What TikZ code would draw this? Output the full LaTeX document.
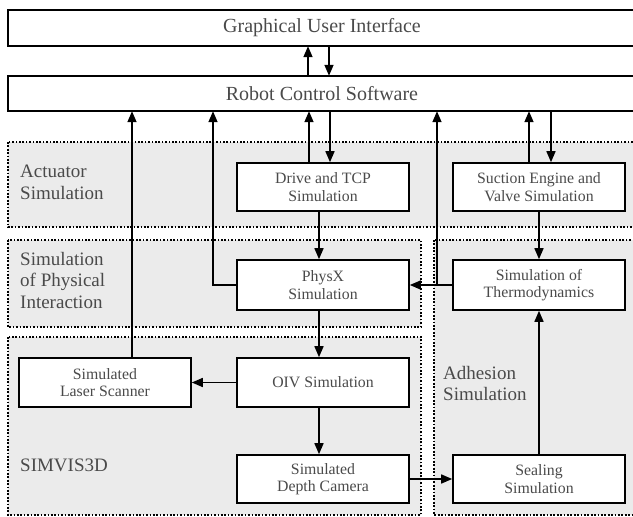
\documentclass[tikz,border=0pt]{standalone}
\usepackage{fontspec}
\setmainfont{Liberation Serif}
\usetikzlibrary{arrows.meta}
\definecolor{regionfill}{HTML}{EBEBEB}
\definecolor{txt}{HTML}{4A4A4A}
\begin{document}
\begin{tikzpicture}[x=1pt,y=-1pt,
  simbox/.style={draw=black,line width=1.6pt,fill=white,minimum width=172pt,minimum height=49pt,
    inner sep=0pt,align=center,text=txt,font=\fontsize{15.8}{17.5}\selectfont},
  widebox/.style={inner sep=0pt,text=txt,font=\fontsize{20}{22}\selectfont},
  region/.style={fill=regionfill,draw=black,line width=1.4pt,dash pattern=on 1.7pt off 1.7pt},
  regionlabel/.style={anchor=north west,inner sep=0pt,align=left,text=txt,
    font=\fontsize{19}{21.5}\selectfont},
  link/.style={line width=1.5pt,-{Triangle[length=11pt,width=9pt]}}]
\useasboundingbox (0,0) rectangle (633,517);
\clip (0,0) rectangle (633,517);

% grey groups with dotted frames
\draw[region] (8,142) rectangle (645,227);
\draw[region] (8,240) rectangle (421,327);
\draw[region] (434,240) rectangle (645,515);
\draw[region] (8,337) rectangle (421,515);

\node[regionlabel] (lact) at (20,165) {Actuator\\Simulation};
\node[regionlabel] (lphys) at (20,252) {Simulation\\of Physical\\Interaction};
\node[regionlabel] (lsim) at (20,459) {SIMVIS3D};
\node[regionlabel] (ladh) at (443,366) {Adhesion\\Simulation};

% top level software boxes
\node[widebox,minimum width=628pt,minimum height=36pt] (gui) at (322,28) {Graphical User Interface};
\draw[line width=1.6pt] (gui.north west) rectangle (gui.south east);
\node[widebox,minimum width=628pt,minimum height=35pt] (rcs) at (322,93.5) {Robot Control Software};
\draw[line width=1.6pt] (rcs.north west) rectangle (rcs.south east);

% simulation modules
\node[simbox,minimum height=48pt] (drive) at (323,187) {Drive and TCP\\Simulation};
\node[simbox,minimum height=48pt] (suction) at (539,187) {Suction Engine and\\Valve Simulation};
\node[simbox,minimum height=50pt] (physx) at (323,285) {PhysX\\Simulation};
\node[simbox,minimum height=50pt] (thermo) at (539,285) {Simulation of\\Thermodynamics};
\node[simbox] (laser) at (105,382.5) {Simulated\\Laser Scanner};
\node[simbox] (oiv) at (323,382.5) {OIV Simulation};
\node[simbox,minimum height=48pt] (depth) at (323,479) {Simulated\\Depth Camera};
\node[simbox,minimum height=48pt] (sealing) at (539,479) {Sealing\\Simulation};

% attachment points for parallel links
\coordinate (g1) at ([xshift=-14pt]gui.south);
\coordinate (g2) at ([xshift=7pt]gui.south);
\coordinate (d1) at ([xshift=-14pt]drive.north);
\coordinate (d2) at ([xshift=7pt]drive.north);
\coordinate (s1) at ([xshift=-10pt]suction.north);
\coordinate (s2) at ([xshift=12pt]suction.north);
\coordinate (l1) at ([xshift=27pt]laser.north);
\coordinate (pw) at (213,285);
\coordinate (tj) at (437,285);

% GUI <-> robot control
\draw[link] (g1 |- rcs.north) -- (g1);
\draw[link] (g2) -- (g2 |- rcs.north);

% links to and from robot control
\draw[link] (l1) -- (l1 |- rcs.south);
\draw[link] (physx.west) -- (pw) -- (pw |- rcs.south);
\draw[link] (d1) -- (d1 |- rcs.south);
\draw[link] (d2 |- rcs.south) -- (d2);
\draw[link] (tj) -- (tj |- rcs.south);
\draw[link] (s1) -- (s1 |- rcs.south);
\draw[link] (s2 |- rcs.south) -- (s2);

% data flow between modules
\draw[link] ([xshift=-4pt]drive.south) -- ([xshift=-4pt]physx.north);
\draw[link] (suction.south) -- (thermo.north);
\draw[link] (thermo.west) -- (physx.east);
\draw[link] ([xshift=-4pt]physx.south) -- ([xshift=-4pt]oiv.north);
\draw[link] (oiv.west) -- (laser.east);
\draw[link] ([xshift=-4pt]oiv.south) -- ([xshift=-4pt]depth.north);
\draw[link] (depth.east) -- (sealing.west);
\draw[link] (sealing.north) -- (thermo.south);
\end{tikzpicture}
\end{document}
